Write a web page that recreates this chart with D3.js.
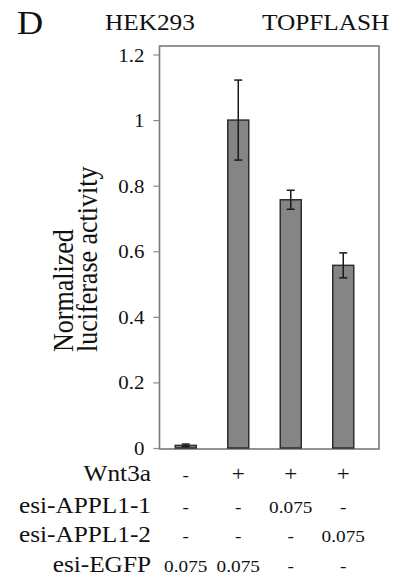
<!DOCTYPE html>
<html>
<head>
<meta charset="utf-8">
<script src="https://cdn.jsdelivr.net/npm/d3@7"></script>
<style>
  body { margin: 0; background: #fff; }
</style>
</head>
<body>
<div id="chart"></div>
<script>
// data
var groups = ["g1", "g2", "g3", "g4"];
var means = [0.008, 1.0, 0.757, 0.557];
var errs = [0.004, 0.122, 0.029, 0.038];
var yTicks = [0, 0.2, 0.4, 0.6, 0.8, 1, 1.2];

var rowLabels = ["Wnt3a", "esi-APPL1-1", "esi-APPL1-2", "esi-EGFP"];
var wnt3a = ["-", "+", "+", "+"];
var appl1 = ["-", "-", "0.075", "-"];
var appl2 = ["-", "-", "-", "0.075"];
var egfp = ["0.075", "0.075", "-", "-"];
var tableRows = [wnt3a, appl1, appl2, egfp];

var width = 394, height = 584;
var stretch = 1.1; // the figure's text is a bit wide

var svg = d3.select("#chart").append("svg")
    .attr("width", width)
    .attr("height", height);

var x = d3.scaleBand()
    .domain(groups)
    .range([159.5, 369.5])
    .paddingInner(0.6)
    .paddingOuter(0.3);

var y = d3.scaleLinear()
    .domain([0, 1.2])
    .range([448, 54.5]);

// little helper for stretched text
function label(sel, tx, ty, str, size, anchor, rot) {
  var t = "translate(" + tx + "," + ty + ") scale(" + stretch + ",1)";
  if (rot) t += " rotate(" + rot + ")";
  return sel.append("text")
      .attr("transform", t)
      .attr("text-anchor", anchor || "start")
      .style("font-family", "'Liberation Serif'")
      .style("font-size", size + "px")
      .style("fill", "#111")
      .text(str);
}

// headers
label(svg, 17, 34, "D", 33, "start");
label(svg, 105, 30, "HEK293", 23, "start");
label(svg, 262, 30, "TOPFLASH", 23, "start");

// y axis title
label(svg, 73, 352, "Normalized", 26, "start", -90);
label(svg, 97, 352, "luciferase activity", 26, "start", -90);

// plot frame
var frameTop = y(1.2) - 8.5;
svg.append("rect")
    .attr("x", 159.5)
    .attr("y", frameTop)
    .attr("width", 379 - 159.5)
    .attr("height", y(0) + 1 - frameTop)
    .style("fill", "none")
    .style("stroke", "#7a7a7a")
    .style("stroke-width", 1.6);

// y axis ticks + labels
var yAxis = svg.append("g")
    .attr("class", "y axis")
    .attr("transform", "translate(159.5,0)")
    .call(d3.axisLeft(y).tickValues(yTicks).tickSize(6).tickFormat(d3.format("")));
yAxis.select(".domain").remove();
yAxis.selectAll(".tick line").style("stroke", "#888").style("stroke-width", 1.2);
yAxis.selectAll(".tick text").remove();
yAxis.selectAll(".tick").each(function(d) {
  label(d3.select(this), -15, 6.5, d3.format("")(d), 19, "end");
});

// bars
svg.selectAll("rect.bar")
    .data(groups)
  .enter().append("rect")
    .attr("class", "bar")
    .attr("x", function(d) { return x(d); })
    .attr("width", x.bandwidth())
    .attr("y", function(d, i) { return y(means[i]); })
    .attr("height", function(d, i) { return y(0) - y(means[i]); })
    .style("fill", "#858585")
    .style("stroke", "#2e2e2e")
    .style("stroke-width", 1.5);

// error bars
var eb = svg.selectAll("g.err")
    .data(groups)
  .enter().append("g")
    .attr("class", "err")
    .attr("transform", function(d) { return "translate(" + (x(d) + x.bandwidth() / 2) + ",0)"; });
eb.append("line")
    .attr("y1", function(d, i) { return y(means[i] + errs[i]); })
    .attr("y2", function(d, i) { return y(means[i] - errs[i]); });
eb.append("line")
    .attr("x1", -4).attr("x2", 4)
    .attr("y1", function(d, i) { return y(means[i] + errs[i]); })
    .attr("y2", function(d, i) { return y(means[i] + errs[i]); });
eb.append("line")
    .attr("x1", -4).attr("x2", 4)
    .attr("y1", function(d, i) { return y(means[i] - errs[i]); })
    .attr("y2", function(d, i) { return y(means[i] - errs[i]); });
eb.selectAll("line")
    .style("stroke", "#1a1a1a")
    .style("stroke-width", 1.5);

// condition table under the chart
var rowY = [481, 513, 542, 572];
rowLabels.forEach(function(name, r) {
  label(svg, 151, rowY[r], name, 23, "end");
  tableRows[r].forEach(function(v, c) {
    // the plus signs look a touch bigger in the figure
    label(svg, x(groups[c]) + x.bandwidth() / 2, rowY[r], v, v == "+" ? 21 : 17.5, "middle");
  });
});
</script>
</body>
</html>
